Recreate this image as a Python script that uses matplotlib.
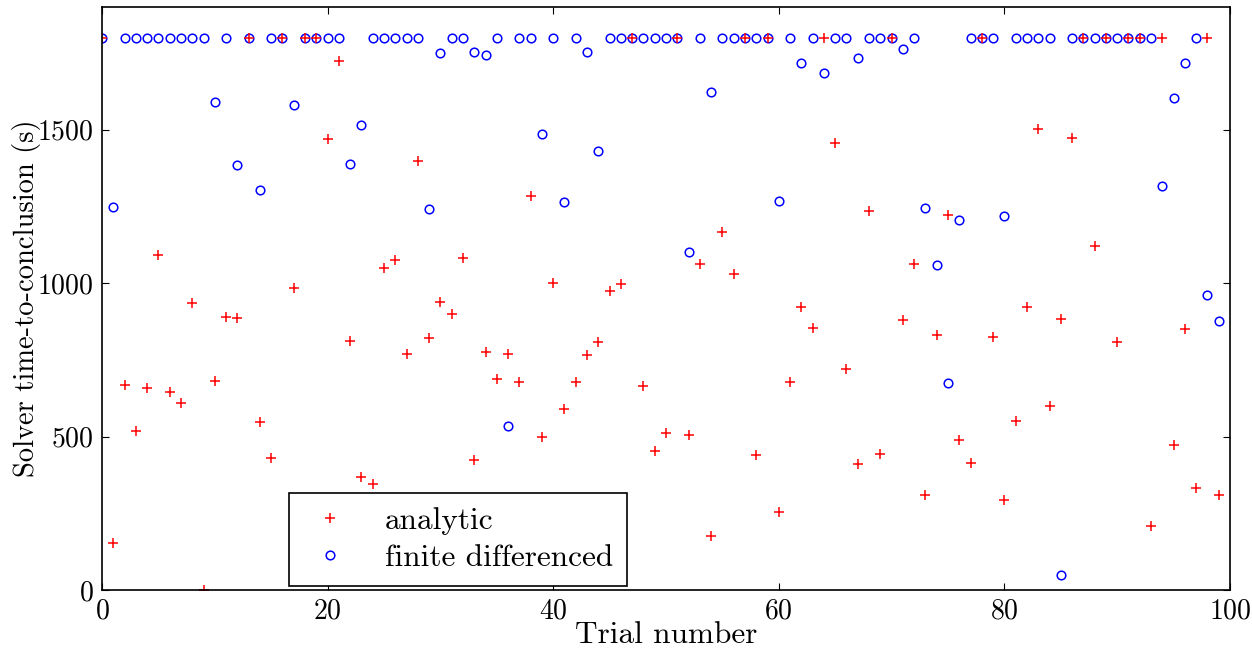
"""Solver time-to-conclusion per trial, analytic vs finite differenced."""
import matplotlib; matplotlib.use('Agg')
import matplotlib.pyplot as plt

trials = list(range(100))

analytic = [
    1800, 153, 668, 517, 659, 1091, 644, 609, 935, 0,
    682, 891, 885, 1800, 549, 431, 1800, 985, 1800, 1800,
    1471, 1725, 813, 369, 346, 1048, 1077, 770, 1399, 822,
    939, 900, 1081, 423, 776, 687, 768, 678, 1285, 499,
    999, 590, 678, 767, 808, 975, 996, 1800, 666, 452,
    512, 1800, 504, 1064, 176, 1168, 1029, 1800, 439, 1800,
    253, 678, 922, 855, 1800, 1456, 721, 410, 1236, 443,
    1800, 879, 1064, 310, 830, 1223, 490, 413, 1800, 826,
    294, 550, 922, 1501, 599, 882, 1473, 1800, 1122, 1800,
    808, 1800, 1800, 207, 1800, 471, 852, 334, 1800, 308,
]

finite_diff = [
    1800, 1247, 1800, 1800, 1800, 1800, 1800, 1800, 1800, 1800,
    1592, 1800, 1385, 1800, 1304, 1800, 1800, 1579, 1800, 1800,
    1800, 1800, 1387, 1514, 1800, 1800, 1800, 1800, 1800, 1242,
    1750, 1800, 1800, 1753, 1745, 1800, 534, 1800, 1800, 1487,
    1800, 1266, 1800, 1752, 1430, 1800, 1800, 1800, 1800, 1800,
    1800, 1800, 1102, 1800, 1622, 1800, 1800, 1800, 1800, 1800,
    1267, 1800, 1717, 1800, 1684, 1800, 1800, 1734, 1800, 1800,
    1800, 1764, 1800, 1246, 1060, 673, 1205, 1800, 1800, 1800,
    1220, 1800, 1800, 1800, 1800, 49, 1800, 1800, 1800, 1800,
    1800, 1800, 1800, 1800, 1317, 1605, 1717, 1800, 961, 876,
]

plt.rcParams['font.family'] = 'serif'
plt.rcParams['font.serif'] = ['cmr10', 'DejaVu Serif']
plt.rcParams['mathtext.fontset'] = 'cm'
plt.rcParams['axes.unicode_minus'] = False
plt.rcParams['axes.formatter.use_mathtext'] = True

fig = plt.figure(figsize=(12.52, 6.49), dpi=100)
ax = fig.add_axes([102 / 1252, 59 / 649, 1128 / 1252, 583 / 649])

# circles first so the crosses sit on top of them
fd, = ax.plot(
    trials, finite_diff, 'o',
    mfc='none', mec='b', mew=1.1, ms=6.2,
    label='finite differenced',
)
an, = ax.plot(
    trials, analytic, '+',
    color='r', mew=1.1, ms=6.5,
    label='analytic',
)

ax.set_xlim(0, 100)
ax.set_ylim(0, 1900)
ax.set_xticks([0, 20, 40, 60, 80, 100])
ax.set_yticks([0, 500, 1000, 1500])
ax.tick_params(direction='in', top=True, right=True, length=5,
               labelsize=20, pad=6)
for s in ax.spines.values():
    s.set_linewidth(1.2)

ax.set_xlabel('Trial number', fontsize=22.5, labelpad=-2.5)
ax.set_ylabel('Solver time-to-conclusion (s)', fontsize=20.5, labelpad=-3)

leg = ax.legend(
    handles=[an, fd],
    loc='lower left',
    bbox_to_anchor=(0.166, 0.007),
    borderaxespad=0,
    numpoints=1,
    fontsize=22.5,
    fancybox=False,
    framealpha=1,
    edgecolor='k',
    handlelength=1.68,
    handletextpad=0.92,
    borderpad=0.45,
    labelspacing=0.3,
)
leg.get_frame().set_linewidth(1.2)

fig.savefig('out.png', dpi=100)
plt.close(fig)
